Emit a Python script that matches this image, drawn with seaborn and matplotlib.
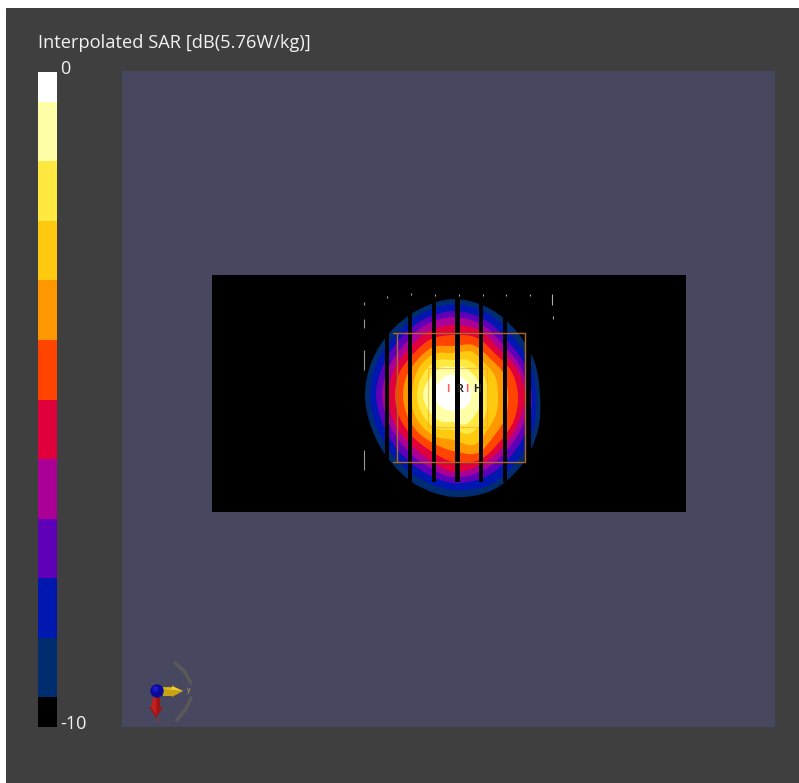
import numpy as np
import seaborn as sns
from matplotlib import pyplot as plt
from matplotlib.colors import ListedColormap
from matplotlib.path import Path
from matplotlib.patches import PathPatch

# colour steps of the scale, from -10 dB up to 0 dB
level_colors = ["#000000", "#002c70", "#0018b0", "#5f00b8", "#ab0096", "#e0003c",
                "#ff4400", "#ff9800", "#ffc90f", "#ffe840", "#ffffa8", "#ffffff"]
level_db = np.linspace(-10, 0, 12)
title = "Interpolated SAR [dB(5.76W/kg)]"
tick_top = "0"
tick_bottom = "-10"

# contour radius (px), going round counter clockwise from +x in 22.5 deg steps
angles = np.deg2rad(np.arange(0, 360, 22.5))
r_navy = [87, 88, 90, 94, 96, 92, 89, 88, 88, 88, 91, 97, 102, 103, 98, 92]
r_blue = [83, 83, 84, 89, 91, 87, 83, 83, 83, 83, 85, 90, 95, 97, 92, 87]
r_purple = [79, 78, 77, 82, 84, 81, 77, 76, 77, 76, 78, 82, 88, 88, 84, 81]
r_magenta = [75, 73, 71, 76, 78, 75, 70, 70, 71, 70, 71, 75, 82, 81, 77, 76]
r_crimson = [72, 69, 65, 70, 70, 68, 64, 64, 65, 65, 65, 68, 77, 75, 72, 71]
r_red = [65, 63, 59, 62, 60, 60, 57, 58, 58, 58, 58, 60, 67, 70, 66, 66]
r_orange = [55, 55, 52, 54, 49, 52, 50, 50, 50, 50, 51, 52, 56, 63, 58, 57]
r_gold = [45, 46, 45, 47, 42, 45, 44, 42, 41, 43, 44, 45, 45, 54, 49, 47]
r_yellow = [35, 36, 37, 38, 35, 38, 37, 36, 36, 36, 37, 37, 35, 42, 40, 37]
r_pale = [30, 29, 29, 30, 28, 30, 29, 29, 30, 29, 29, 29, 27, 32, 30, 29]
r_white = [18, 19, 19, 20, 20, 20, 19, 19, 18, 18, 17, 16, 16, 16, 17, 18]
contours = [r_navy, r_blue, r_purple, r_magenta, r_crimson, r_red, r_orange, r_gold, r_yellow, r_pale, r_white]

# black measuring strips over the field
strip_left = [384.5, 408, 432, 455, 479, 502.5, 526]
strip_right = [388.5, 412, 436, 459.5, 483, 507, 531]

W, H = 799, 783
CX, CY = 453, 395


def px_axes(fig, x0, y0, x1, y1, **kwargs):
    # axes placed in picture pixels, y going down
    return fig.add_axes([x0 / W, 1 - y1 / H, (x1 - x0) / W, (y1 - y0) / H], **kwargs)


def smooth_closed(points):
    # closed bezier through the points, catmull-rom style tangents
    prev_pts = np.roll(points, 1, axis=0)
    next_pts = np.roll(points, -1, axis=0)
    next2_pts = np.roll(points, -2, axis=0)
    verts = [points[0]]
    codes = [Path.MOVETO]
    for p0, p1, p2, p3 in zip(prev_pts, points, next_pts, next2_pts):
        verts += [p1 + (p2 - p0) / 6, p2 - (p3 - p1) / 6, p2]
        codes += [Path.CURVE4] * 3
    return Path(verts, codes)


sns.set_theme(style="white")
plt.rcParams["font.family"] = ["Open Sans", "DejaVu Sans"]

fig = plt.figure(figsize=(W / 100, H / 100), dpi=100, facecolor="white")

# dark frame
frame = px_axes(fig, 6, 8, W, H, facecolor="#3f3f3f")
frame.set_xlim(6, W)
frame.set_ylim(H, 8)
frame.axis("off")
frame.add_patch(plt.Rectangle((6, 8), W, H, color="#3f3f3f", zorder=0))
frame.text(38, 48, title, color="#f2f2f2", fontsize=13.15, va="baseline", ha="left")
frame.text(60, 74, tick_top, color="#f2f2f2", fontsize=13, va="baseline", ha="left")
frame.text(60, 729, tick_bottom, color="#f2f2f2", fontsize=13, va="baseline", ha="left")

# colour scale, the two end colours get half a step
bar_ax = px_axes(fig, 38, 72, 57, 727)
bar_values = np.repeat(level_db[::-1], 2)[1:-1].reshape(-1, 1)
half_step = (level_db[1] - level_db[0]) / 2
sns.heatmap(bar_values, ax=bar_ax, cmap=ListedColormap(level_colors), vmin=-10 - half_step, vmax=half_step,
            cbar=False, xticklabels=False, yticklabels=False)

# main view
ax = px_axes(fig, 122, 71, 775, 727, facecolor="#47475f")
ax.set_xlim(122, 775)
ax.set_ylim(727, 71)
ax.axis("off")
ax.add_patch(plt.Rectangle((122, 71), 653, 656, color="#47475f", zorder=0))
ax.add_patch(plt.Rectangle((212, 275), 473.5, 236.5, color="black", lw=0, zorder=1))

for radii, color in zip(contours, level_colors[1:]):
    radii = np.array(radii)
    pts = np.column_stack([CX + radii * np.cos(angles), CY - radii * np.sin(angles)])
    ax.add_patch(PathPatch(smooth_closed(pts), fc=color, lw=0, zorder=2))

# scan area outlines
ax.add_patch(plt.Rectangle((428, 368), 59, 59, fill=False, ec="#ff9d2e", lw=0.8, alpha=0.6, zorder=2.5))

for left, right in zip(strip_left, strip_right):
    ax.add_patch(plt.Rectangle((left, 296), right - left, 186, color="black", lw=0, zorder=3))

ax.add_patch(plt.Rectangle((397, 333), 128, 129, fill=False, ec="#b0691e", lw=1, zorder=4))
ax.plot([392.5, 397], [333, 333], color="#b0691e", lw=1, zorder=4)
ax.plot([392.5, 397], [462, 462], color="#b0691e", lw=1, zorder=4)

# little leftovers of the grid around the field
ax.vlines([364, 364, 364, 364], [302, 319, 350, 450], [305, 328, 370, 470], color="#999999", lw=0.8, zorder=4)
ax.vlines([387, 411, 435, 459, 483, 506, 530, 552, 553], [296, 293, 294, 294, 294, 294, 294, 294, 316],
          [298, 295, 296, 296, 296, 296, 296, 305, 319], color="#aaaaaa", lw=0.8, zorder=4)

for x, label, color in zip([448, 459.5, 467, 477], ["I", "R", "I", "H"],
                           ["#ff5a5a", "#202020", "#ff5a5a", "#202020"]):
    ax.text(x, 390, label, color=color, fontsize=7.5, fontweight="bold", ha="center", va="center", zorder=5)

# axis triad
ax.plot([175, 184, 191], [663, 671, 683], color="#595959", lw=2.6, zorder=5)
ax.plot([191, 186, 177], [698, 709, 720], color="#595959", lw=2.6, zorder=5)
ax.fill([163, 172, 172, 183, 172, 172, 163], [687, 687, 685.5, 691, 697, 696, 696], color="#c8a415", lw=0, zorder=6)
ax.fill([163, 172, 172, 183], [688.5, 688.5, 686.5, 691], color="#f0d040", lw=0, zorder=6)
ax.fill([153, 160, 160, 163, 156, 149, 153], [697, 697, 707, 707, 718, 707, 707], color="#9c1414", lw=0, zorder=6)
ax.fill([153, 156.5, 156.5, 151], [697, 697, 716, 707], color="#c02020", lw=0, zorder=6)
ax.add_patch(plt.Circle((157, 691), 6.7, color="#0a0a9a", lw=0, zorder=7))
ax.add_patch(plt.Circle((155.5, 689), 3, color="#1a1ac0", lw=0, zorder=7))
ax.text(189, 690, "y", color="#c8b030", fontsize=5, ha="center", va="center", zorder=6)
ax.text(158, 721, "x", color="#a03020", fontsize=5, ha="center", va="center", zorder=6)

plt.savefig("out.png", dpi=100)
